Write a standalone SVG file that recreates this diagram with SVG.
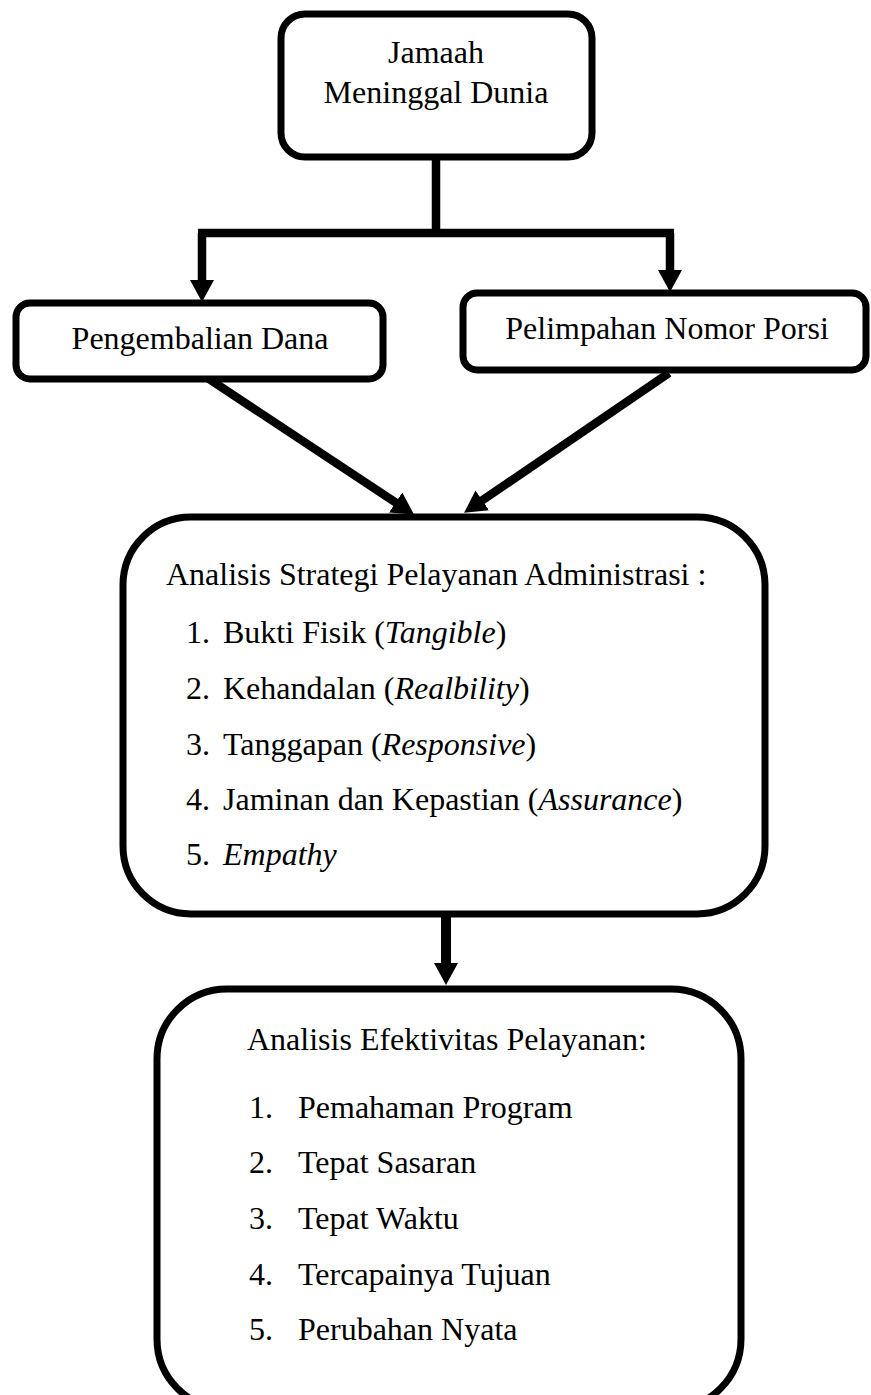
<svg xmlns="http://www.w3.org/2000/svg" width="871" height="1395" viewBox="0 0 871 1395">
<style>
.box{fill:#fff;stroke:#000;stroke-width:7}
.t{font-family:"Liberation Serif","Times New Roman",serif;font-size:32px;fill:#000}
.c{text-anchor:middle}
.i{font-style:italic}
.con{fill:none;stroke:#000;stroke-width:8.5}
</style>
<defs>
<marker id="ah" markerUnits="userSpaceOnUse" markerWidth="26" markerHeight="26" refX="10" refY="12" orient="auto">
<path d="M0,0 L22,12 L0,24 z" fill="#000"/>
</marker>
</defs>
<g id="connectors">
<path class="con" d="M436,157 V233"/>
<path class="con" d="M198,233 H674"/>
<path class="con" d="M202,233 V290" marker-end="url(#ah)"/>
<path class="con" d="M670,233 V280" marker-end="url(#ah)"/>
<path class="con" d="M203,375 L404,508" marker-end="url(#ah)"/>
<path class="con" d="M669,373 L474,506" marker-end="url(#ah)"/>
<path class="con" d="M446,917 V973" style="stroke-width:10" marker-end="url(#ah)"/>
</g>
<g id="jamaah">
<rect class="box" x="281" y="14" width="311" height="143" rx="24"/>
<text class="t c" x="436" y="63">Jamaah</text>
<text class="t c" x="436" y="103">Meninggal Dunia</text>
</g>
<g id="pengembalian">
<rect class="box" x="16" y="303" width="367" height="76" rx="14"/>
<text class="t c" x="200" y="349">Pengembalian Dana</text>
</g>
<g id="pelimpahan">
<rect class="box" x="463" y="293" width="403" height="77" rx="14"/>
<text class="t c" x="667" y="339">Pelimpahan Nomor Porsi</text>
</g>
<g id="strategi">
<rect class="box" x="123" y="517" width="642" height="397" rx="68"/>
<text class="t" x="166" y="585">Analisis Strategi Pelayanan Administrasi :</text>
<text class="t" x="186" y="643">1.</text><text class="t" x="223" y="643">Bukti Fisik (<tspan class="i">Tangible</tspan>)</text>
<text class="t" x="186" y="699">2.</text><text class="t" x="223" y="699">Kehandalan (<tspan class="i">Realbility</tspan>)</text>
<text class="t" x="186" y="755">3.</text><text class="t" x="223" y="755">Tanggapan (<tspan class="i">Responsive</tspan>)</text>
<text class="t" x="186" y="810">4.</text><text class="t" x="223" y="810">Jaminan dan Kepastian (<tspan class="i">Assurance</tspan>)</text>
<text class="t" x="186" y="865">5.</text><text class="t i" x="223" y="865">Empathy</text>
</g>
<g id="efektivitas">
<rect class="box" x="157" y="989" width="584" height="420" rx="70"/>
<text class="t" x="247" y="1050">Analisis Efektivitas Pelayanan:</text>
<text class="t" x="249" y="1118">1.</text><text class="t" x="298" y="1118">Pemahaman Program</text>
<text class="t" x="249" y="1173">2.</text><text class="t" x="298" y="1173">Tepat Sasaran</text>
<text class="t" x="249" y="1229">3.</text><text class="t" x="298" y="1229">Tepat Waktu</text>
<text class="t" x="249" y="1285">4.</text><text class="t" x="298" y="1285">Tercapainya Tujuan</text>
<text class="t" x="249" y="1340">5.</text><text class="t" x="298" y="1340">Perubahan Nyata</text>
</g>
</svg>
